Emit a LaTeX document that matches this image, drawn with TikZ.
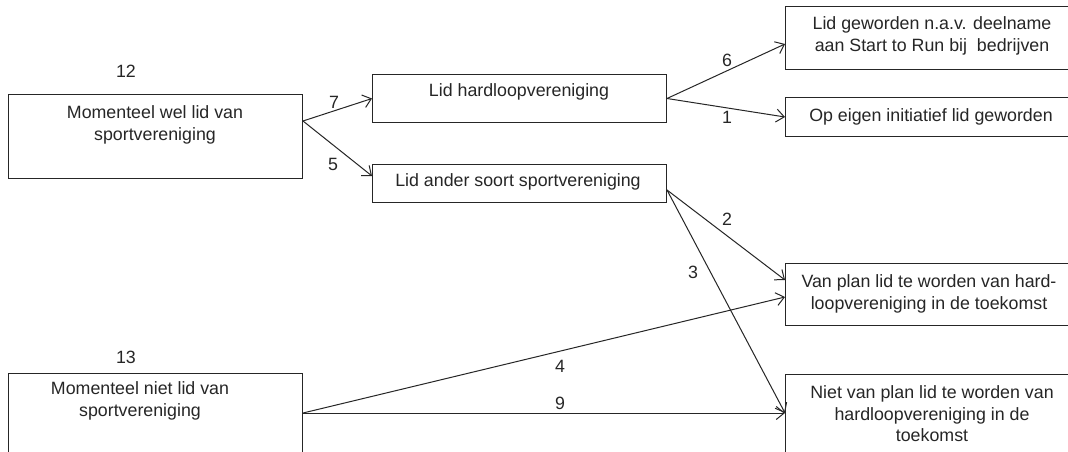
\documentclass[tikz,border=0pt]{standalone}
\usepackage{fontspec}
\setmainfont{Liberation Sans}
\usetikzlibrary{arrows.meta}
\begin{document}
\begin{tikzpicture}[x=1pt,y=-1pt,
  box/.style={draw=black!85, line width=1pt, inner sep=0pt, anchor=north west},
  txt/.style={inner sep=0pt, align=center, font=\fontsize{17.8}{21.5}\selectfont, text=black!85},
  num/.style={inner sep=0pt, font=\fontsize{17.8}{21}\selectfont, text=black!85},
  conn/.style={draw=black!85, line width=1pt, -{Straight Barb[length=8pt,width=13pt,line width=1pt]}}]
\clip (0,0) rectangle (1068,452);
\fill[white] (0,0) rectangle (1068,452);
% boxes
\node[box, minimum width=294pt, minimum height=84pt] (A) at (8,94) {};
\node[box, minimum width=294pt, minimum height=48pt] (B) at (372,74) {};
\node[box, minimum width=294pt, minimum height=38pt] (C) at (372,164) {};
\node[box, minimum width=300pt, minimum height=63pt] (D) at (785,6) {};
\node[box, minimum width=300pt, minimum height=39pt] (E) at (785,97) {};
\node[box, minimum width=300pt, minimum height=62pt] (F) at (785,263) {};
\node[box, minimum width=300pt, minimum height=100pt] (G) at (785,374) {};
\node[box, minimum width=294pt, minimum height=100pt] (H) at (8,373) {};
% texts
\node[txt] (At) at (155,125) {Momenteel wel lid van\\sportvereniging};
\node[txt] (Bt) at (519,92) {Lid hardloopvereniging};
\node[txt] (Ct) at (518,182) {Lid ander soort sportvereniging};
\node[txt] (Dt) at (932,36) {Lid geworden n.a.v. deelname\\aan Start to Run bij\ \ bedrijven};
\node[txt] (Et) at (931,117) {Op eigen initiatief lid geworden};
\node[txt] (Ft) at (929,294) {Van plan lid te worden van hard-\\loopvereniging in de toekomst};
\node[txt] (Gt) at (932,414) {Niet van plan lid te worden van\\hardloopvereniging in de\\toekomst};
\node[txt] (Ht) at (140,401) {Momenteel niet lid van\\sportvereniging};
% count labels
\node[num] (n12) at (126,71) {12};
\node[num] (n13) at (126,357) {13};
% connectors
\draw[conn] ([yshift=-27pt]A.north east) -- (B.west);
\draw[conn] ([yshift=-27pt]A.north east) -- ([yshift=-12pt]C.north west);
\draw[conn] (B.east) -- ([yshift=-38pt]D.north west);
\draw[conn] (B.east) -- (E.west);
\draw[conn] ([yshift=-26pt]C.north east) -- ([yshift=-17pt]F.north west);
\draw[conn] ([yshift=-26pt]C.north east) -- ([yshift=-39pt]G.north west);
\draw[conn] ([yshift=-40pt]H.north east) -- ([yshift=-34pt]F.north west);
\draw[conn] ([yshift=-40pt]H.north east) -- ([yshift=-39pt]G.north west);
% connector labels
\node[num] (l7) at (334,102) {7};
\node[num] (l5) at (333,164) {5};
\node[num] (l6) at (727,60) {6};
\node[num] (l1) at (727,117) {1};
\node[num] (l2) at (727,219) {2};
\node[num] (l3) at (693,272) {3};
\node[num] (l4) at (560,366) {4};
\node[num] (l9) at (560,403) {9};
\end{tikzpicture}
\end{document}
